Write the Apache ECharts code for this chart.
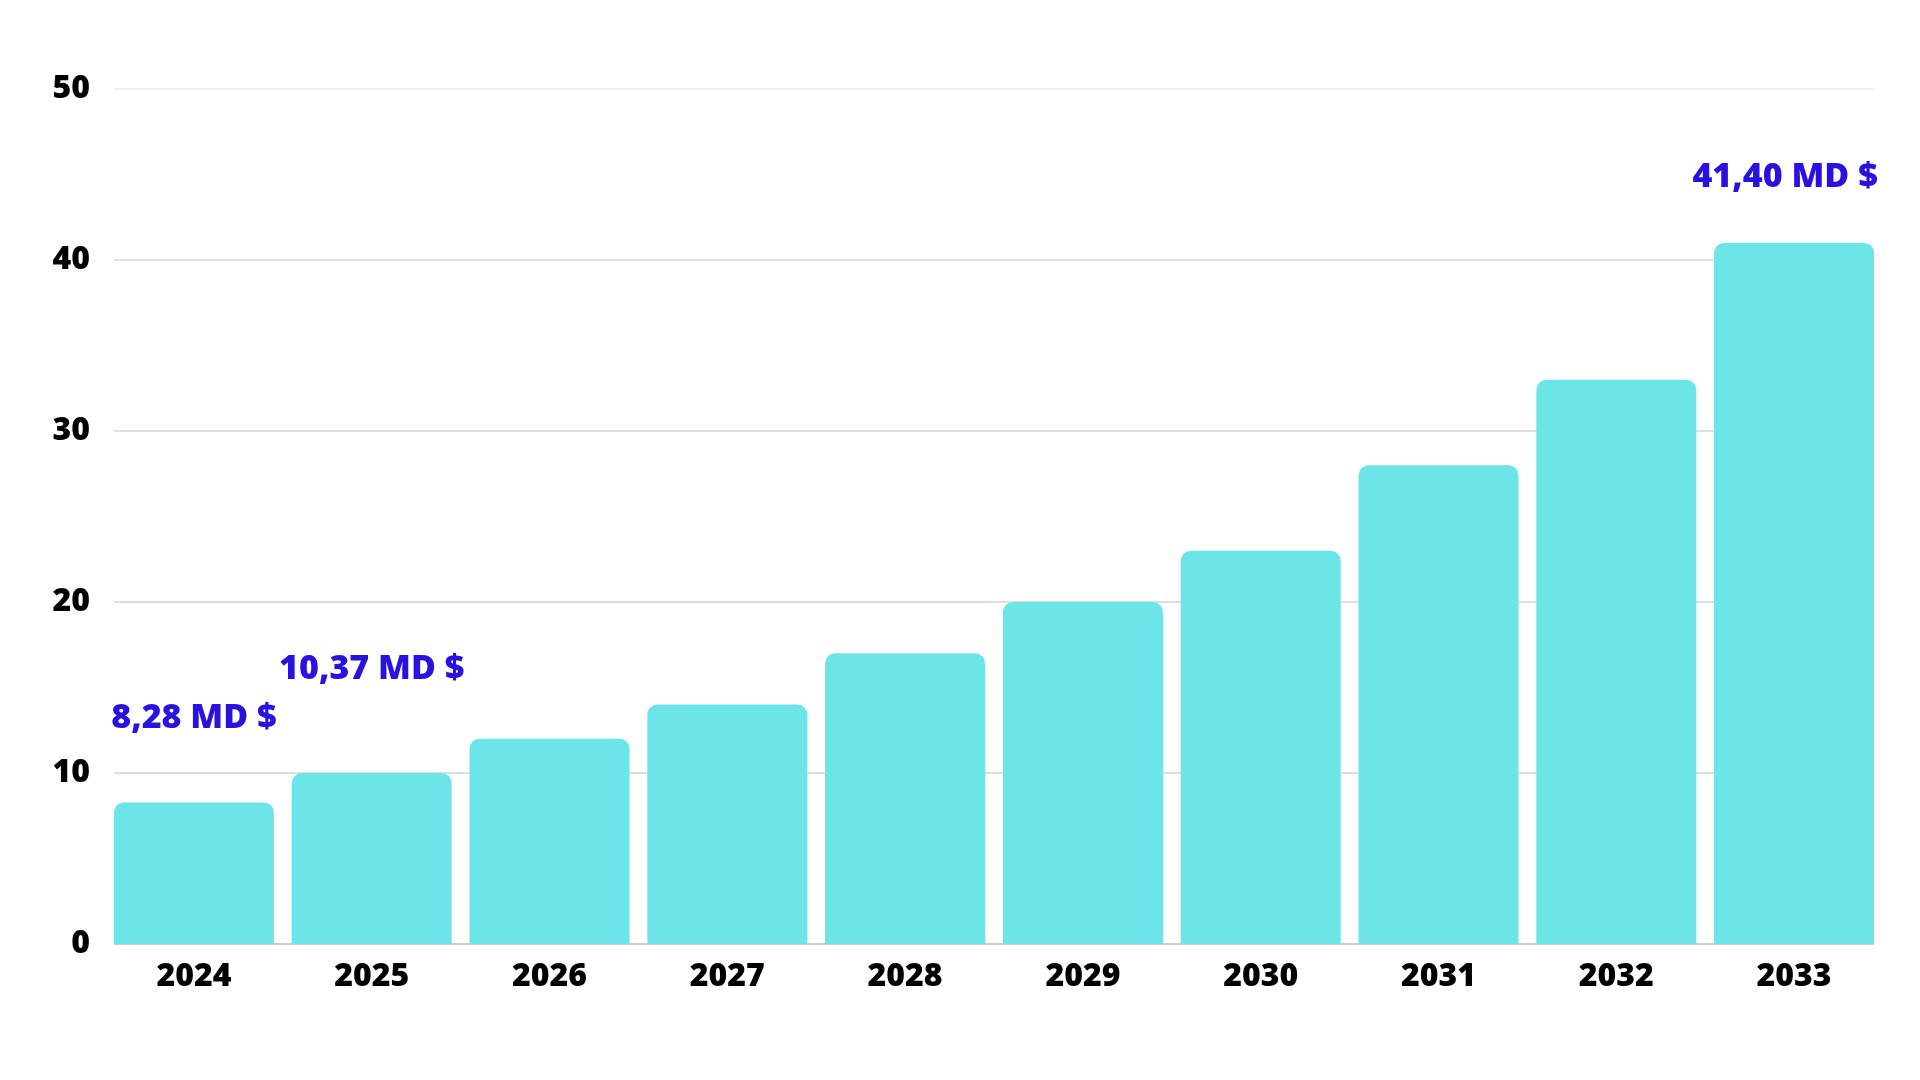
<!DOCTYPE html>
<html>
<head>
<meta charset="utf-8">
<title>Marché 2024-2033</title>
<script src="https://cdn.jsdelivr.net/npm/echarts@6/dist/echarts.min.js"></script>
<style>
    html, body { margin: 0; padding: 0; background: #fff; }
    #main { width: 1920px; height: 1080px; }
</style>
</head>
<body>
<div id="main"></div>
<script>
    'use strict';
    var years = ['2024', '2025', '2026', '2027', '2028', '2029', '2030', '2031', '2032', '2033'];
    var values = [8.28, 10, 12, 14, 17, 20, 23, 28, 33, 41];
    var valueLabels = ['8,28 MD $', '10,37 MD $', '', '', '', '', '', '', '', '41,40 MD $'];
    var yTicks = [0, 10, 20, 30, 40, 50];

    var chart = echarts.init(document.getElementById('main'));
    var font = '"Open Sans", "Noto Sans", sans-serif';

    // label placement above each bar (dx, dy in px)
    var labelOffsets = {0: [0, -64], 1: [0, -84], 9: [-9, -46]};

    var barData = values.map(function(v, i){
        if(!valueLabels[i]){
            return {value: v, label: {show: false}};
        }
        return {
            value: v,
            label: {
                show: true,
                position: 'top',
                distance: 0,
                offset: labelOffsets[i] || [0, 0],
                formatter: valueLabels[i],
                color: '#2a12de',
                fontFamily: font,
                fontWeight: 800,
                fontSize: 34,
                lineHeight: 40
            }
        };
    });

    var option = {
        animation: false,
        backgroundColor: '#ffffff',
        grid: [
            {left: 105, right: 37, top: 89, bottom: 136},
            {left: 114, right: 46, top: 89, bottom: 136}
        ],
        xAxis: [{
            type: 'category',
            gridIndex: 0,
            data: years,
            axisLine: {show: false},
            axisTick: {show: false},
            axisLabel: {
                color: '#000',
                fontFamily: font,
                fontWeight: 800,
                fontSize: 32,
                margin: 17
            }
        }, {
            type: 'value',
            gridIndex: 1,
            show: false
        }],
        yAxis: [{
            type: 'value',
            gridIndex: 0,
            min: yTicks[0],
            max: yTicks[yTicks.length - 1],
            interval: 10,
            show: false
        }, {
            type: 'value',
            gridIndex: 1,
            min: yTicks[0],
            max: yTicks[yTicks.length - 1],
            interval: 10,
            axisLine: {show: false},
            axisTick: {show: false},
            axisLabel: {
                color: '#000',
                fontFamily: font,
                fontWeight: 800,
                fontSize: 32,
                margin: 24,
                padding: [6, 0, 0, 0]
            },
            splitLine: {
                lineStyle: {
                    width: 1.5,
                    color: ['#bdbdbd', '#d4d4d4', '#d4d4d4', '#d4d4d4', '#d9d9d9', '#ebebeb']
                }
            }
        }],
        series: [{
            type: 'bar',
            xAxisIndex: 0,
            yAxisIndex: 0,
            barWidth: 160,
            data: barData,
            itemStyle: {
                color: '#6ce5e8',
                borderRadius: [10, 10, 0, 0]
            }
        }]
    };

    chart.setOption(option);
</script>
</body>
</html>
